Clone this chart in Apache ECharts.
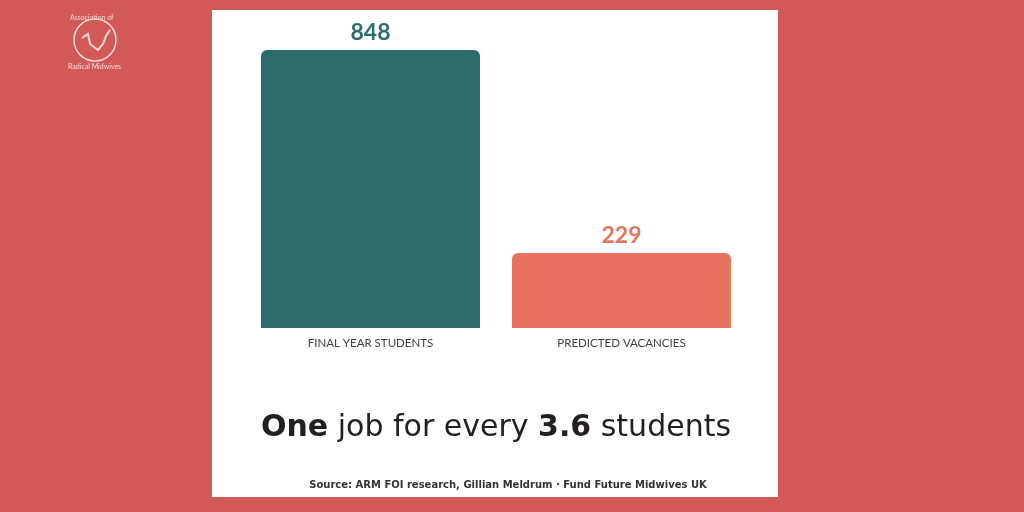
<!DOCTYPE html>
<html>
<head>
<meta charset="utf-8">
<script src="https://cdn.jsdelivr.net/npm/echarts@6/dist/echarts.min.js"></script>
<style>
html,body{margin:0;padding:0;background:#D15A57;}
#c{width:1024px;height:512px;}
</style>
</head>
<body>
<div id="c"></div>
<script>
const categories = ['FINAL YEAR STUDENTS', 'PREDICTED VACANCIES'];
const values = [848, 229];
const barColors = ['#2E6B6B', '#E8735F'];
const headlineParts = [['One', 'b'], [' job for every ', 'n'], ['3.6', 'b'], [' students', 'n']];
const sourceText = 'Source: ARM FOI research, Gillian Meldrum · Fund Future Midwives UK';

const chart = echarts.init(document.getElementById('c'), null, {renderer: 'canvas'});
const headline = headlineParts.map(p => '{' + p[1] + '|' + p[0] + '}').join('');

chart.setOption({
  backgroundColor: '#D15A57',
  animation: false,
  graphic: [
    {type: 'rect', z: -10, shape: {x: 212, y: 10, width: 566, height: 487}, style: {fill: '#ffffff'}},
    {type: 'circle', shape: {cx: 95, cy: 40, r: 21}, style: {fill: 'none', stroke: '#F6D8D4', lineWidth: 1.5}},
    {type: 'text', left: 70, top: 14, style: {text: 'Association of', fill: '#F6D8D4', fontSize: 7, fontFamily: 'Lato'}},
    {type: 'text', left: 68, top: 63, style: {text: 'Radical Midwives', fill: '#F6D8D4', fontSize: 7, fontFamily: 'Lato'}},
    {type: 'polyline', shape: {points: [[82, 38], [88, 34], [90, 44], [98, 50], [103, 44], [106, 36], [110, 30]]}, style: {stroke: '#F6D8D4', lineWidth: 2, fill: 'none'}},
    {type: 'text', x: 496, y: 428, style: {
      text: headline, fill: '#231F1E', align: 'center', verticalAlign: 'middle',
      rich: {
        b: {fontSize: 30, fontWeight: 'bold', fill: '#231F1E', fontFamily: '"DejaVu Sans", sans-serif'},
        n: {fontSize: 30, fontWeight: 'normal', fill: '#231F1E', fontFamily: '"DejaVu Sans", sans-serif'}
      }
    }},
    {type: 'text', x: 508, y: 485, style: {text: sourceText, fill: '#333333', align: 'center', verticalAlign: 'middle', fontSize: 10, fontWeight: 'bold', fontFamily: '"DejaVu Sans", sans-serif'}}
  ],
  grid: {left: 245, right: 1024 - 747, top: 50, bottom: 512 - 328, containLabel: false},
  xAxis: {
    type: 'category',
    data: categories,
    axisLine: {show: false},
    axisTick: {show: false},
    axisLabel: {color: '#3F3F4A', fontSize: 11.5, fontFamily: 'Lato', margin: 9}
  },
  yAxis: {
    type: 'value', min: 0, max: 848,
    show: false, splitLine: {show: false}
  },
  series: [{
    type: 'bar',
    barWidth: 219,
    data: values.map((v, i) => ({value: v, itemStyle: {color: barColors[i], borderRadius: [6, 6, 0, 0]},
      label: {color: barColors[i]}})),
    label: {show: true, position: 'top', distance: 6, fontSize: 23, fontWeight: 'bold', fontFamily: 'Lato'}
  }]
});
</script>
</body>
</html>
